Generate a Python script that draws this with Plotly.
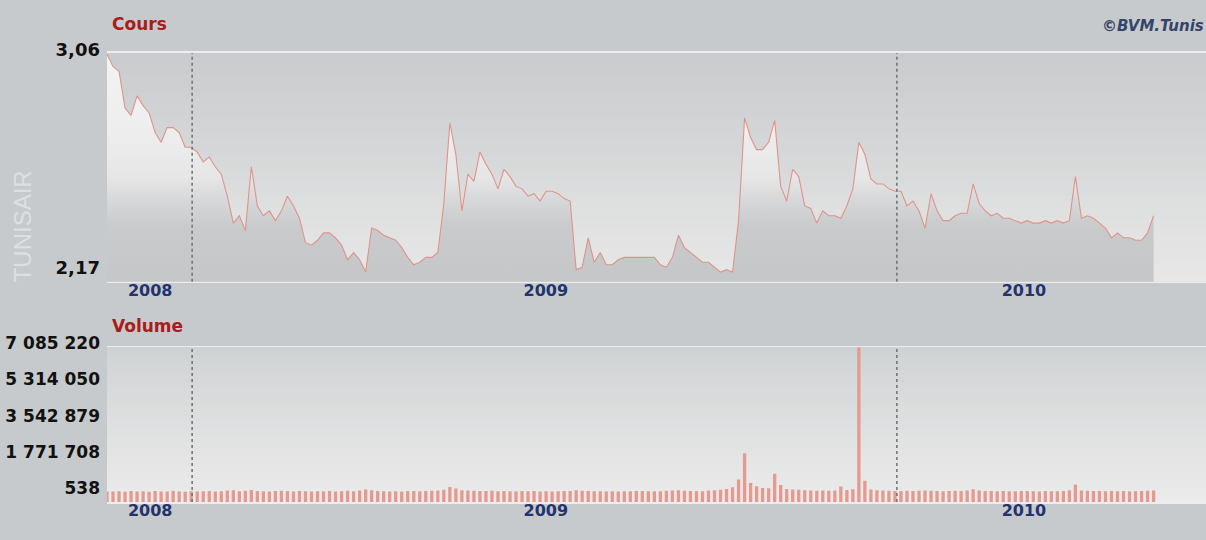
import plotly.graph_objects as go
import pandas as pd
import numpy as np

# ---------------- data ----------------
dates = pd.date_range("2008-02-01", "2010-04-10", periods=175)

price = [
    3.06, 3.01, 2.99, 2.84, 2.81, 2.89, 2.85, 2.82, 2.74, 2.70,
    2.76, 2.76, 2.74, 2.68, 2.68, 2.66, 2.62, 2.64, 2.60, 2.57,
    2.48, 2.37, 2.40, 2.34, 2.60, 2.44, 2.40, 2.42, 2.38, 2.42,
    2.48, 2.44, 2.39, 2.29, 2.28, 2.30, 2.33, 2.33, 2.31, 2.28,
    2.22, 2.25, 2.22, 2.17, 2.35, 2.34, 2.32, 2.31, 2.30, 2.27,
    2.23, 2.20, 2.21, 2.23, 2.23, 2.25, 2.45, 2.78, 2.65, 2.42,
    2.57, 2.54, 2.66, 2.61, 2.57, 2.51, 2.59, 2.56, 2.52, 2.51,
    2.48, 2.49, 2.46, 2.50, 2.50, 2.49, 2.47, 2.46, 2.18, 2.19,
    2.31, 2.21, 2.25, 2.20, 2.20, 2.22, 2.23, 2.23, 2.23, 2.23,
    2.23, 2.23, 2.20, 2.19, 2.23, 2.32, 2.27, 2.25, 2.23, 2.21,
    2.21, 2.19, 2.17, 2.18, 2.17, 2.38, 2.80, 2.72, 2.67, 2.67,
    2.70, 2.79, 2.52, 2.46, 2.59, 2.56, 2.44, 2.43, 2.37, 2.42,
    2.40, 2.40, 2.39, 2.44, 2.51, 2.70, 2.65, 2.55, 2.53, 2.53,
    2.51, 2.50, 2.50, 2.44, 2.46, 2.42, 2.35, 2.49, 2.42, 2.38,
    2.38, 2.40, 2.41, 2.41, 2.53, 2.45, 2.42, 2.40, 2.41, 2.39,
    2.39, 2.38, 2.37, 2.38, 2.37, 2.37, 2.38, 2.37, 2.38, 2.37,
    2.38, 2.56, 2.39, 2.40, 2.39, 2.37, 2.35, 2.31, 2.33, 2.31,
    2.31, 2.30, 2.30, 2.33, 2.40,
]

volume = [
    42000, 35000, 51000, 28000, 64000, 39000, 47000, 31000, 58000, 44000,
    36000, 72000, 41000, 29000, 55000, 38000, 47000, 61000, 33000, 45000,
    88000, 96000, 52000, 74000, 110000, 63000, 48000, 39000, 57000, 71000,
    66000, 43000, 58000, 49000, 37000, 52000, 45000, 61000, 40000, 54000,
    69000, 47000, 83000, 140000, 95000, 58000, 46000, 39000, 51000, 44000,
    62000, 57000, 48000, 66000, 73000, 92000, 120000, 260000, 180000, 97000,
    85000, 76000, 64000, 59000, 71000, 55000, 68000, 49000, 53000, 61000,
    47000, 58000, 44000, 52000, 39000, 46000, 57000, 63000, 94000, 71000,
    66000, 52000, 48000, 43000, 55000, 41000, 50000, 46000, 62000, 57000,
    48000, 53000, 45000, 69000, 88000, 105000, 72000, 61000, 57000, 49000,
    83000, 96000, 118000, 160000, 250000, 620000, 1900000, 450000, 300000, 210000,
    200000, 900000, 350000, 160000, 140000, 120000, 98000, 84000, 76000, 92000,
    70000, 88000, 280000, 110000, 150000, 7085220, 560000, 130000, 95000, 82000,
    74000, 66000, 58000, 71000, 63000, 80000, 92000, 77000, 60000, 55000,
    68000, 73000, 59000, 82000, 150000, 90000, 64000, 57000, 49000, 61000,
    53000, 47000, 58000, 66000, 51000, 44000, 60000, 55000, 48000, 62000,
    97000, 380000, 88000, 71000, 59000, 66000, 52000, 58000, 49000, 63000,
    54000, 47000, 61000, 72000, 90000,
]

year_ticks = ["2008-03-05", "2009-01-01", "2010-01-01"]
year_labels = ["2008", "2009", "2010"]
price_ticks = [3.06, 2.17]
price_labels = ["3,06", "2,17"]
vol_ticks = [538, 1771708, 3542879, 5314050, 7085220]
vol_labels = ["538", "1 771 708", "3 542 879", "5 314 050", "7 085 220"]
marker_dates = ["2008-04-06", "2009-09-26"]

# ---------------- style ----------------
W, H = 1206, 540
PAGE_BG = "#c7cacc"
FONT = "DejaVu Sans"
X_RANGE = ["2008-02-01", "2010-05-20"]
PRICE_RANGE = [2.13, 3.065]
VOL_RANGE = [-475000, 7085220]
VOL_BASE = VOL_RANGE[0]

dom_x = [107 / W, 1.0]
dom_price = [1 - 275 / H, 1 - 40 / H]
dom_vol = [1 - 501 / H, 1 - 342 / H]


def hex2rgb(h):
    h = h.lstrip("#")
    return [int(h[i:i + 2], 16) for i in (0, 2, 4)]


def interp_color(stops, f):
    for (f0, c0), (f1, c1) in zip(stops[:-1], stops[1:]):
        if f0 <= f <= f1:
            t = (f - f0) / (f1 - f0) if f1 > f0 else 0
            a, b = hex2rgb(c0), hex2rgb(c1)
            r = [round(a[k] + (b[k] - a[k]) * t) for k in range(3)]
            return "rgb(%d,%d,%d)" % tuple(r)
    return stops[-1][1]


def gradient_shapes(xref, yref, stops, n=40):
    shapes = []
    for k in range(n):
        f0, f1 = k / n, (k + 1) / n
        col = interp_color(stops, (f0 + f1) / 2)
        shapes.append(dict(type="rect", xref=xref, yref=yref, x0=0, x1=1,
                           y0=f0, y1=f1 + 0.002, fillcolor=col,
                           line=dict(width=0), layer="below"))
    return shapes


price_bg_stops = [(0, "#e7e7e7"), (0.3, "#dfe0e0"), (0.6, "#d4d6d7"), (1, "#c9cbce")]
vol_bg_stops = [(0, "#ebebeb"), (0.4, "#e1e2e2"), (1, "#cfd2d4")]

fig = go.Figure()

fig.add_trace(go.Scatter(
    x=dates, y=price, mode="lines",
    line=dict(color="#df938b", width=1.1),
    fill="tozeroy",
    fillgradient=dict(type="vertical",
                      colorscale=[[0, "#c4c6c8"], [0.26, "#c8cacc"], [0.37, "#d6d7d8"],
                                  [0.47, "#e6e6e6"], [0.67, "#eeeeee"], [1, "#f3f3f3"]],
                      start=PRICE_RANGE[0], stop=PRICE_RANGE[1]),
    xaxis="x", yaxis="y", hoverinfo="skip", showlegend=False,
))

fig.add_trace(go.Bar(
    x=dates, y=np.array(volume) - VOL_BASE, base=VOL_BASE,
    marker=dict(color="#e49a8f", line=dict(width=0)),
    xaxis="x2", yaxis="y2", hoverinfo="skip", showlegend=False,
))

shapes = gradient_shapes("x domain", "y domain", price_bg_stops)
shapes += gradient_shapes("x2 domain", "y2 domain", vol_bg_stops)
for d in marker_dates:
    for xr, yr in (("x", "y domain"), ("x2", "y2 domain")):
        shapes.append(dict(type="line", xref=xr, yref=yr, x0=d, x1=d, y0=0, y1=1,
                           line=dict(color="#6c7075", width=1.5, dash="dot"),
                           layer="above"))

xaxis_common = dict(
    domain=dom_x, range=X_RANGE, type="date",
    tickmode="array", tickvals=year_ticks, ticktext=year_labels,
    tickfont=dict(family=FONT, size=16, color="#22336f", weight="bold"),
    showgrid=False, zeroline=False, showline=True, mirror=True,
    linecolor="#ecedee", linewidth=1.5, ticks="", fixedrange=True,
    ticklabelstandoff=-7,
)
yaxis_common = dict(
    showgrid=False, zeroline=False, showline=False, ticks="",
    ticklabelstandoff=6, ticklabelshift=-4, fixedrange=True,
)

fig.update_layout(
    width=W, height=H,
    margin=dict(l=0, r=0, t=0, b=0),
    paper_bgcolor=PAGE_BG, plot_bgcolor="#dcdddd",
    bargap=0.45,
    xaxis=dict(**xaxis_common, anchor="y"),
    xaxis2=dict(**xaxis_common, anchor="y2"),
    yaxis=dict(**yaxis_common, domain=dom_price, range=PRICE_RANGE,
               tickfont=dict(family=FONT, size=18, color="#111111", weight="bold"),
               tickmode="array", tickvals=price_ticks, ticktext=price_labels, anchor="x"),
    yaxis2=dict(**yaxis_common, domain=dom_vol, range=VOL_RANGE,
                tickfont=dict(family=FONT, size=17, color="#111111", weight="bold"),
                tickmode="array", tickvals=vol_ticks, ticktext=vol_labels, anchor="x2"),
    shapes=shapes,
    annotations=[
        dict(text="Cours", xref="paper", yref="paper", x=110 / W, y=1 - 10 / H,
             xanchor="left", yanchor="middle", showarrow=False,
             font=dict(family=FONT, size=17, color="#a81c1c", weight="bold")),
        dict(text="Volume", xref="paper", yref="paper", x=110 / W, y=1 - 320 / H,
             xanchor="left", yanchor="middle", showarrow=False,
             font=dict(family=FONT, size=17, color="#a81c1c", weight="bold")),
        dict(text="©BVM.Tunis", xref="paper", yref="paper", x=1.0, y=1 - 12 / H,
             xanchor="right", yanchor="middle", showarrow=False,
             font=dict(family=FONT, size=15, color="#34456b", weight="bold", style="italic")),
        dict(text="TUNISAIR", xref="paper", yref="paper", x=22 / W, y=1 - 218 / H,
             xanchor="center", yanchor="middle", showarrow=False, textangle=-90,
             font=dict(family="Liberation Sans", size=24, color="#dde0e2")),
    ],
)

fig.write_html(
    "out.html",
    config={"displayModeBar": False, "staticPlot": True},
    post_script="document.body.style.margin='0';document.body.style.overflow='hidden';",
)
